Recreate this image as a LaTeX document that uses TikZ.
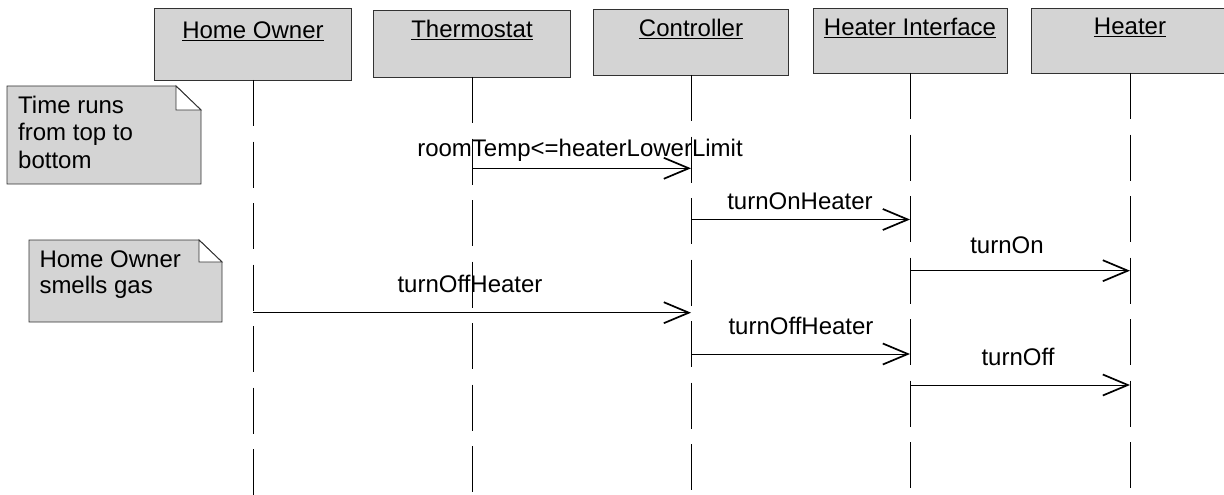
\documentclass[tikz,border=0pt]{standalone}
\usepackage{fontspec}
\setmainfont{Liberation Sans}
\usetikzlibrary{arrows.meta}
\definecolor{boxgray}{RGB}{212,212,212}
\definecolor{edge}{RGB}{50,50,50}
\tikzset{
  objbox/.style={draw=edge, line width=0.9pt, fill=boxgray, anchor=north west, inner sep=0pt},
  objlabel/.style={anchor=base, inner sep=0pt, font=\fontsize{24}{27.5}\selectfont},
  life/.style={draw=black, line width=0.9pt, dash pattern=on 46pt off 15.5pt},
  msg/.style={draw=black, line width=0.8pt, -{Straight Barb[length=25pt,width=21pt,line width=1.7pt]}},
  msglabel/.style={anchor=base, inner sep=0pt, font=\fontsize{24}{27.5}\selectfont},
  notebody/.style={draw=edge, line width=0.9pt, fill=boxgray, line join=miter},
  notefold/.style={draw=edge, line width=0.9pt, fill=white},
  notetext/.style={anchor=base west, inner sep=0pt, align=left},
}
\begin{document}
\begin{tikzpicture}[x=1pt,y=-1pt]
\useasboundingbox (0,0) rectangle (1224,495);

% object boxes
\node[objbox, minimum width=197pt, minimum height=72pt] (ho) at (154,8) {};
\node[objbox, minimum width=197pt, minimum height=67pt] (th) at (373,10) {};
\node[objbox, minimum width=195pt, minimum height=66pt] (co) at (593,9) {};
\node[objbox, minimum width=194pt, minimum height=65pt] (hi) at (813,8) {};
\node[objbox, minimum width=198pt, minimum height=65pt] (he) at (1031,8) {};

\node[objlabel] (hoL) at (253,39) {\underline{Home Owner}};
\node[objlabel] (thL) at (472,38) {\underline{Thermostat}};
\node[objlabel] (coL) at (691,37) {\underline{Controller}};
\node[objlabel] (hiL) at (910,36) {\underline{Heater Interface}};
\node[objlabel] (heL) at (1130,35) {\underline{Heater}};

% lifelines
\coordinate (hoT) at (253,80);   \coordinate (hoB) at (253,495);
\coordinate (thT) at (472,77);   \coordinate (thB) at (472,495);
\coordinate (coT) at (691,75);   \coordinate (coB) at (691,495);
\coordinate (hiT) at (910,73);   \coordinate (hiB) at (910,495);
\coordinate (heT) at (1130,73);  \coordinate (heB) at (1130,495);
\draw[life] (hoT) -- (hoB);
\draw[life] (thT) -- (thB);
\draw[life] (coT) -- (coB);
\draw[life] (hiT) -- (hiB);
\draw[life] (heT) -- (heB);

% message end points on the lifelines
\coordinate (m1s) at (472,168.3);  \coordinate (m1e) at (691,168.3);
\coordinate (m2s) at (691,219.5);  \coordinate (m2e) at (910,219.5);
\coordinate (m3s) at (910,270.7);  \coordinate (m3e) at (1130,270.7);
\coordinate (m4s) at (253,312.7);  \coordinate (m4e) at (691,312.7);
\coordinate (m5s) at (691,354);    \coordinate (m5e) at (910,354);
\coordinate (m6s) at (910,385);    \coordinate (m6e) at (1130,385);

\draw[msg] (m1s) -- (m1e);
\draw[msg] (m2s) -- (m2e);
\draw[msg] (m3s) -- (m3e);
\draw[msg] (m4s) -- (m4e);
\draw[msg] (m5s) -- (m5e);
\draw[msg] (m6s) -- (m6e);

\node[msglabel] (m1L) at (580,156.7) {roomTemp<=heaterLowerLimit};
\node[msglabel] (m2L) at (800,209) {turnOnHeater};
\node[msglabel] (m3L) at (1007,253) {turnOn};
\node[msglabel] (m4L) at (470,292.7) {turnOffHeater};
\node[msglabel] (m5L) at (801,334) {turnOffHeater};
\node[msglabel] (m6L) at (1018,365) {turnOff};

% notes
\path[notebody] (7,86) -- (176,86) -- (201,110) -- (201,184) -- (7,184) -- cycle;
\path[notefold] (176,86) -- (176,110) -- (201,110) -- cycle;
\node[notetext, font=\fontsize{24}{27.5}\selectfont] (n1) at (18,168.3) {Time runs\\from top to\\bottom};

\path[notebody] (29,240) -- (199,240) -- (222,262) -- (222,322) -- (29,322) -- cycle;
\path[notefold] (199,240) -- (199,262) -- (222,262) -- cycle;
\node[notetext, font=\fontsize{24}{26}\selectfont] (n2) at (39.3,293.3) {Home Owner\\smells gas};
\end{tikzpicture}
\end{document}
